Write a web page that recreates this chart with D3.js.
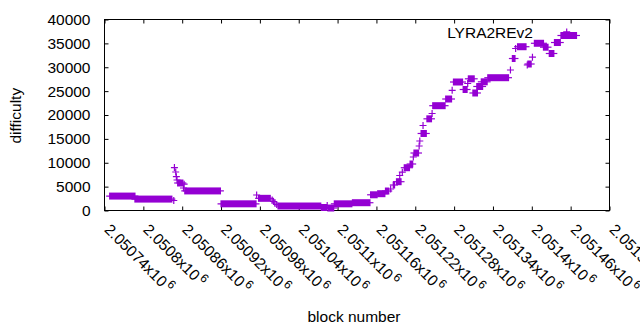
<!DOCTYPE html>
<html>
<head>
<meta charset="utf-8">
<script src="https://cdn.jsdelivr.net/npm/d3@7"></script>
<style>
body { margin: 0; background: #fff; }
text { font-family: "Liberation Sans", Arial, sans-serif; font-size: 15.5px; fill: #000; }
</style>
</head>
<body>
<svg width="640" height="330"></svg>
<script>
// runs of blocks with the same difficulty: [first block, last block, difficulty]
var runs = [
  [2050748, 2050787, 3020], [2050787, 2050844, 2390], [2050853, 2050861, 5760],
  [2050864, 2050919, 4100], [2050920, 2050974, 1400], [2050978, 2050996, 2550],
  [2051008, 2051074, 940], [2051075, 2051083, 630], [2051085, 2051094, 520],
  [2051095, 2051122, 1400], [2051123, 2051150, 1630], [2051151, 2051161, 3290],
  [2051162, 2051173, 3520], [2051174, 2051179, 4080], [2051186, 2051188, 5340],
  [2051191, 2051198, 6030], [2051203, 2051211, 8960], [2051212, 2051216, 9740],
  [2051218, 2051225, 12040], [2051229, 2051237, 16130], [2051238, 2051245, 19200],
  [2051247, 2051266, 21950], [2051267, 2051276, 23350], [2051279, 2051293, 26910],
  [2051294, 2051300, 25340], [2051302, 2051311, 27580], [2051309, 2051316, 24610],
  [2051315, 2051324, 25970], [2051322, 2051331, 26950], [2051332, 2051364, 27810],
  [2051370, 2051374, 31830], [2051378, 2051391, 34300], [2051394, 2051399, 30680],
  [2051404, 2051418, 35020], [2051418, 2051425, 34200], [2051427, 2051434, 32880],
  [2051435, 2051444, 35180], [2051445, 2051469, 36650]
];
// single blocks: [block, difficulty]
var points = [
  [2050847, 2090], [2050848, 9000], [2050850, 8060], [2050851, 7080], [2050852, 6390],
  [2050862, 4710], [2050863, 5510], [2050975, 3250], [2050999, 2200], [2051001, 1880],
  [2051003, 1570], [2051006, 1260], [2051084, 1050], [2051182, 4500], [2051196, 7330],
  [2051200, 8020], [2051217, 11200], [2051226, 13510], [2051227, 14550], [2051232, 17800],
  [2051246, 20310], [2051277, 25170], [2051301, 26600], [2051367, 29420], [2051375, 33930],
  [2051393, 30470], [2051401, 32100]
];
var yTicks = [0, 5000, 10000, 15000, 20000, 25000, 30000, 35000, 40000];
var xTicks = [2050740, 2050800, 2050860, 2050920, 2050980, 2051040, 2051100,
              2051160, 2051220, 2051280, 2051340, 2051400, 2051460, 2051520];
var xTickLabels = ["2.05074", "2.0508", "2.05086", "2.05092", "2.05098", "2.05104", "2.0511",
                   "2.05116", "2.05122", "2.05128", "2.05134", "2.0514", "2.05146", "2.05152"];
var seriesName = "LYRA2REv2";

var color = "#9400d3";
var arm = 3.5;
var plot = {left: 104.5, right: 609.5, top: 19.5, bottom: 210.5};

var svg = d3.select("svg");

var x = d3.scaleLinear().domain([2050740, 2051520]).range([plot.left, plot.right]);
var y = d3.scaleLinear().domain([0, 40000]).range([plot.bottom, plot.top]);

// ticks pointing inward on all four sides
var axes = [
  [d3.axisBottom(x).tickValues(xTicks), "translate(0," + plot.bottom + ")"],
  [d3.axisTop(x).tickValues(xTicks), "translate(0," + plot.top + ")"],
  [d3.axisLeft(y).tickValues(yTicks), "translate(" + plot.left + ",0)"],
  [d3.axisRight(y).tickValues(yTicks), "translate(" + plot.right + ",0)"]
];
axes.forEach(function(a, i) {
  var g = svg.append("g").attr("transform", a[1])
    .call(a[0].tickSizeInner(-4).tickSizeOuter(0).tickPadding(14)
      .tickFormat(i == 2 ? function(d) { return d; } : ""));
  g.select(".domain").remove();
  g.selectAll("line").attr("stroke", "#000");
  g.selectAll("text").attr("font-size", null).attr("font-family", null).attr("fill", null);
});

svg.append("rect")
  .attr("x", plot.left).attr("y", plot.top)
  .attr("width", plot.right - plot.left).attr("height", plot.bottom - plot.top)
  .attr("fill", "none").attr("stroke", "#000");

// rotated x tick labels with the exponent raised
var lab = svg.append("g").selectAll("text")
  .data(xTicks)
  .enter()
  .append("text")
  .attr("transform", function(d) { return "translate(" + (x(d) - 1) + "," + (plot.bottom + 20) + ") rotate(45)"; });
lab.append("tspan").text(function(d, i) { return xTickLabels[i] + "x10"; });
lab.append("tspan").attr("dx", 2).attr("dy", -6).attr("font-size", "12px").text("6");

// data: runs as overlapping crosses, single blocks as crosses
var marks = svg.append("g").attr("stroke", color).attr("stroke-width", 1.2).attr("fill", "none");
marks.selectAll(".run")
  .data(runs)
  .enter()
  .append("path")
  .attr("d", function(r) {
    var x0 = x(r[0]), x1 = x(r[1]), yy = y(r[2]);
    return "M" + (x0 - arm) + "," + yy + "H" + (x1 + arm);
  });
marks.selectAll(".runbody")
  .data(runs)
  .enter()
  .append("rect")
  .attr("stroke", "none").attr("fill", color)
  .attr("x", function(r) { return x(r[0]) - 0.6; })
  .attr("width", function(r) { return x(r[1]) - x(r[0]) + 1.2; })
  .attr("y", function(r) { return y(r[2]) - arm; })
  .attr("height", arm * 2);
marks.selectAll(".pt")
  .data(points)
  .enter()
  .append("path")
  .attr("d", function(p) {
    var px = x(p[0]), py = y(p[1]);
    return "M" + (px - arm) + "," + py + "h" + (2 * arm) + "M" + px + "," + (py - arm) + "v" + (2 * arm);
  });

// key
svg.append("text").attr("x", 533).attr("y", 37.5).attr("text-anchor", "end").text(seriesName);
svg.append("path")
  .attr("stroke", color).attr("stroke-width", 1.2)
  .attr("d", "M" + (566.7 - arm) + ",31.9h" + (2 * arm) + "M566.7," + (31.9 - arm) + "v" + (2 * arm));

// axis titles
svg.append("text").attr("text-anchor", "middle")
  .attr("transform", "translate(21,115.7) rotate(-90)").text("difficulty");
svg.append("text").attr("text-anchor", "middle").attr("x", 354).attr("y", 322).text("block number");
</script>
</body>
</html>
